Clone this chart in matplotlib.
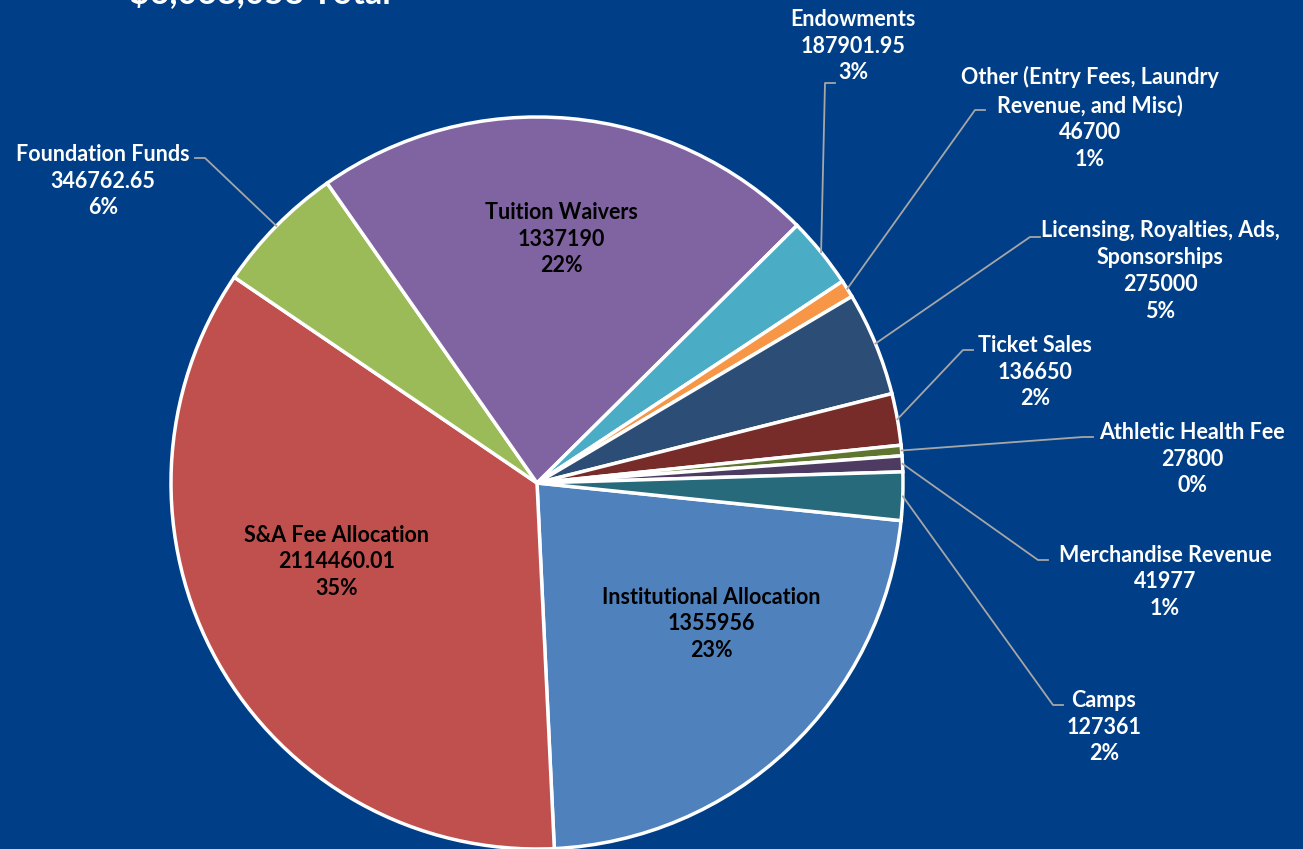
import numpy as np
import matplotlib.pyplot as plt

# revenue sources (clockwise from Institutional Allocation)
labels = ['Institutional Allocation', 'S&A Fee Allocation', 'Foundation Funds',
          'Tuition Waivers', 'Endowments', 'Other (Entry Fees, Laundry\nRevenue, and Misc)',
          'Licensing, Royalties, Ads,\nSponsorships', 'Ticket Sales', 'Athletic Health Fee',
          'Merchandise Revenue', 'Camps']
values = [1355956, 2114460.01, 346762.65, 1337190, 187901.95, 46700,
          275000, 136650, 27800, 41977, 127361]
value_text = ['1355956', '2114460.01', '346762.65', '1337190', '187901.95', '46700',
              '275000', '136650', '27800', '41977', '127361']
pct_text = ['23%', '35%', '6%', '22%', '3%', '1%', '5%', '2%', '0%', '1%', '2%']
colors = ['#4F81BD', '#C0504D', '#9BBB59', '#8064A2', '#4BACC6', '#F79646',
          '#2C4D75', '#772C2A', '#5F7530', '#4D3B62', '#276A7C']

BG = '#003F87'
W, H = 1303, 849
fig = plt.figure(figsize=(13.03, 8.49), dpi=100, facecolor=BG)
ax = fig.add_axes([0, 0, 1, 1])
ax.set_facecolor(BG)

cx, cy, r = 537, H - 483, 366
wedges, _ = ax.pie(values, colors=colors, startangle=-5.9, counterclock=False,
                   center=(cx, cy), radius=r, frame=True,
                   wedgeprops=dict(edgecolor='white', linewidth=2.5))
ax.set_xlim(0, W)
ax.set_ylim(0, H)
ax.set_aspect('equal')
ax.axis('off')

font = dict(family='Lato', fontweight='bold', fontsize=15.5, linespacing=1.35)

# inner labels (index -> pixel center of text block)
inner = {0: (711, 624), 1: (337, 562), 3: (561, 239)}
for i, (x, y) in inner.items():
    ax.text(x, H - y, f"{labels[i]}\n{value_text[i]}\n{pct_text[i]}",
            ha='center', va='center', color='black', **font)

# outer labels: index -> (text center x, text center y, elbow x, elbow y, side)
outer = {
    2: (103, 181, 205, 158, 'left'),
    4: (853, 46, 825, 83, 'right'),
    5: (1090, 118, 975, 110, 'right'),
    6: (1160, 271, 1030, 237, 'right'),
    7: (1035, 372, 963, 350, 'right'),
    8: (1192, 459, 1083, 437, 'right'),
    9: (1165, 582, 1038, 560, 'right'),
    10: (1104, 727, 1053, 705, 'right'),
}
for i, (tx, ty, ex, ey, side) in outer.items():
    w = wedges[i]
    mid = np.deg2rad((w.theta1 + w.theta2) / 2)
    px, py = cx + r * np.cos(mid), cy + r * np.sin(mid)
    hx = ex - 10 if side == 'left' else ex + 10
    ax.plot([px, ex, hx], [py, H - ey, H - ey], color='#A6A6A6', lw=1.3)
    ax.text(tx, H - ty, f"{labels[i]}\n{value_text[i]}\n{pct_text[i]}",
            ha='center', va='center', color='white', **font)

ax.text(130, H + 8, '$6,068,058 Total', ha='left', va='center', color='white',
        family='Lato', fontweight='bold', fontsize=24.5)

fig.savefig('out.png', dpi=100, facecolor=BG)
